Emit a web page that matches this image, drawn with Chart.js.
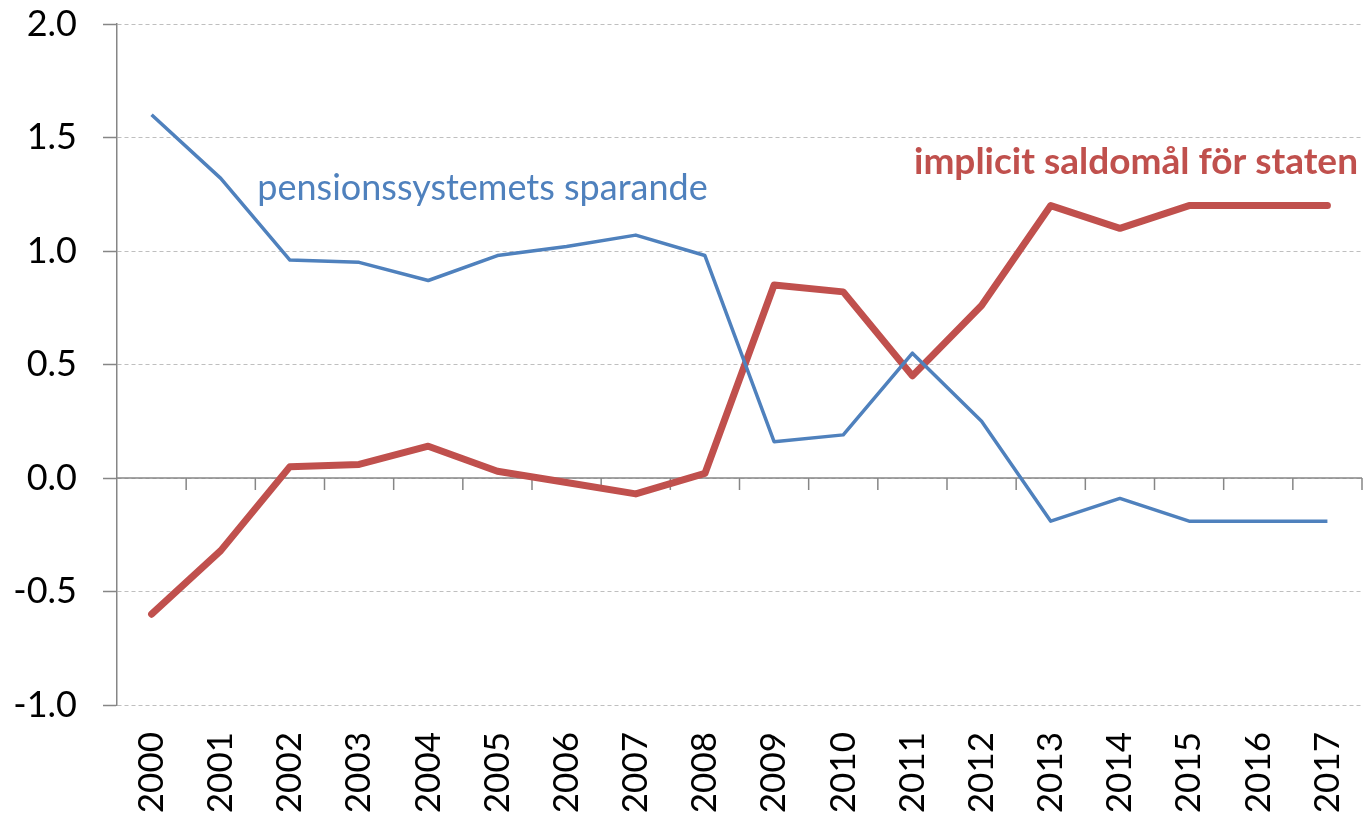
<!DOCTYPE html>
<html><head><meta charset="utf-8">
<script src="https://cdn.jsdelivr.net/npm/chart.js@4.4.1/dist/chart.umd.min.js"></script>
<style>html,body{margin:0;padding:0;background:#fff;}#wrap{width:1365px;height:819px;}</style>
</head><body><div id="wrap"><canvas id="c" width="1365" height="819"></canvas></div>
<script>
const years = ['2000','2001','2002','2003','2004','2005','2006','2007','2008','2009','2010','2011','2012','2013','2014','2015','2016','2017'];
const pension = [1.60,1.32,0.96,0.95,0.87,0.98,1.02,1.07,0.98,0.16,0.19,0.55,0.25,-0.19,-0.09,-0.19,-0.19,-0.19];
const saldo = [-0.60,-0.32,0.05,0.06,0.14,0.03,-0.02,-0.07,0.02,0.85,0.82,0.45,0.76,1.20,1.10,1.20,1.20,1.20];
const yTicks = [-1.0,-0.5,0.0,0.5,1.0,1.5,2.0];
const pensionLabel = 'pensionssystemets sparande';
const saldoLabel = 'implicit saldomål för staten';

const FONT = 'Lato, "Open Sans", sans-serif';
const BLUE = '#4F81BD', RED = '#C0504D', AXIS = '#868686';

const zeroAxis = {
  id: 'zeroAxis',
  beforeDatasetsDraw(chart) {
    const {ctx, chartArea, scales} = chart;
    const x = scales.x, y = scales.y;
    const y0 = y.getPixelForValue(0);
    ctx.save();
    ctx.strokeStyle = AXIS; ctx.lineWidth = 1.5; ctx.setLineDash([]);
    ctx.beginPath(); ctx.moveTo(chartArea.left, y0); ctx.lineTo(chartArea.right, y0); ctx.stroke();
    for (let i = 0; i < years.length; i++) {
      const a = x.getPixelForValue(i), b = x.getPixelForValue(i + 1);
      const bx = i + 1 < years.length ? (a + b) / 2 : chartArea.right;
      ctx.beginPath(); ctx.moveTo(bx, y0); ctx.lineTo(bx, y0 + 12); ctx.stroke();
    }
    ctx.restore();
  },
  afterDraw(chart) {
    const {ctx, chartArea, scales} = chart;
    const x = scales.x, y = scales.y;
    ctx.save();
    ctx.textBaseline = 'middle';
    ctx.font = '36px ' + FONT;
    ctx.fillStyle = BLUE; ctx.textAlign = 'left';
    ctx.fillText(pensionLabel, (x.getPixelForValue(1) + x.getPixelForValue(2)) / 2 + 2, y.getPixelForValue(1.275));
    ctx.font = 'bold 37px ' + FONT;
    ctx.fillStyle = RED; ctx.textAlign = 'right';
    ctx.fillText(saldoLabel, chartArea.right - 4, y.getPixelForValue(1.39));
    ctx.restore();
  }
};

new Chart(document.getElementById('c'), {
  type: 'line',
  data: {
    labels: years,
    datasets: [
      {label: pensionLabel, data: pension, borderColor: BLUE, borderWidth: 3.5, pointRadius: 0, tension: 0, borderJoinStyle: 'round'},
      {label: saldoLabel, data: saldo, borderColor: RED, borderWidth: 7, pointRadius: 0, tension: 0, borderJoinStyle: 'round', borderCapStyle: 'round'}
    ]
  },
  options: {
    responsive: false, animation: false, devicePixelRatio: 1,
    layout: {padding: {left: 0, right: 3, top: 24, bottom: 0}},
    plugins: {legend: {display: false}, tooltip: {enabled: false}},
    scales: {
      x: {
        offset: true,
        grid: {display: false},
        border: {display: false},
        ticks: {color: '#000', font: {family: FONT, size: 35}, minRotation: 90, maxRotation: 90, padding: 19, autoSkip: false},
        afterFit(scale) { scale.paddingLeft = 0; scale.paddingRight = 0; scale.height = 114; }
      },
      y: {
        min: -1, max: 2,
        afterBuildTicks(scale) { scale.ticks = yTicks.map(v => ({value: v})); },
        afterFit(scale) { scale.width = 117; scale.paddingTop = 0; scale.paddingBottom = 0; },
        ticks: {color: '#000', font: {family: FONT, size: 36}, padding: 26, callback: v => Number(v).toFixed(1)},
        grid: {color: '#BFBFBF', lineWidth: 1, tickLength: 14, tickColor: AXIS, tickWidth: 1.5, tickBorderDash: []},
        border: {color: AXIS, width: 1.5, dash: [4, 3]}
      }
    }
  },
  plugins: [zeroAxis]
});
</script></body></html>
